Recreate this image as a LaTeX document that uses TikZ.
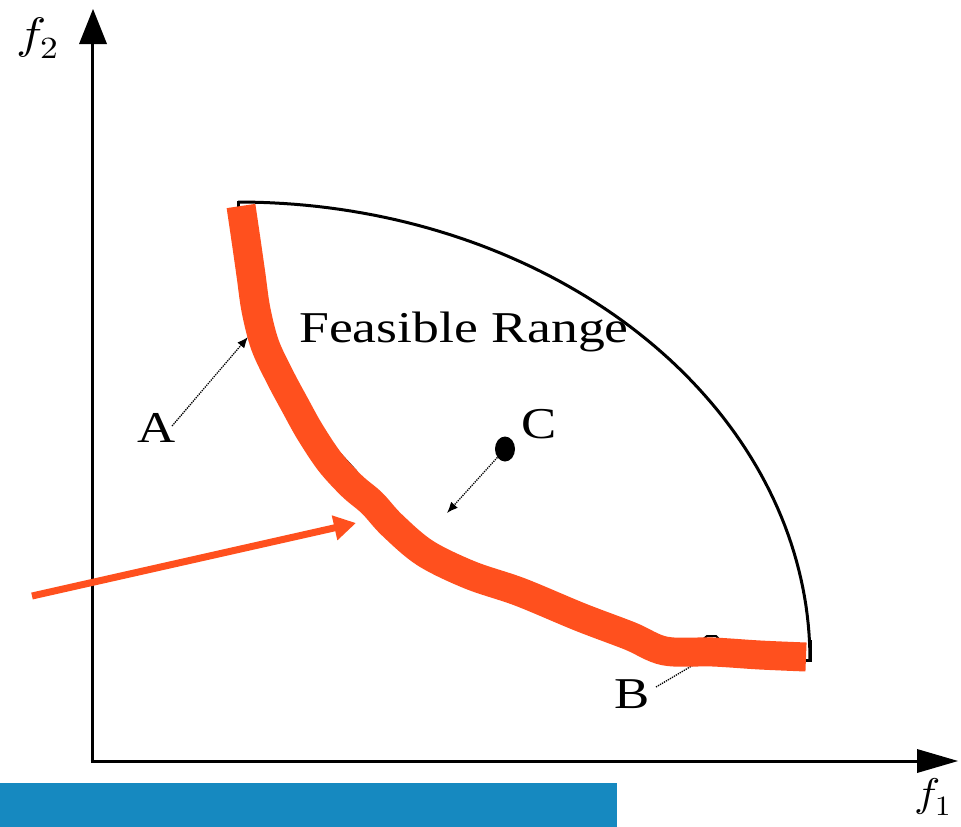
\documentclass[tikz,border=0pt]{standalone}
\usepackage{fontspec}
\setmainfont{Liberation Serif}
\usepackage{unicode-math}
\setmathfont{Latin Modern Math}
\usetikzlibrary{arrows.meta,shapes.geometric}
\definecolor{hlorange}{RGB}{255,80,30}
\definecolor{barblue}{RGB}{22,137,192}
\tikzset{
  axisline/.style={line width=3pt, black},
  bound/.style={line width=3pt, black},
  ptr/.style={densely dotted, line width=1.3pt, -{Latex[length=11pt,width=9pt]}},
  lbl/.style={inner sep=0pt, font=\fontsize{44}{48}\selectfont},
  hlmark/.style={line width=29pt, hlorange, line cap=butt, line join=round}
}
\begin{document}
\begin{tikzpicture}[x=1pt,y=-1pt]
\useasboundingbox (0,0) rectangle (961,827);
% axes
\coordinate (O) at (92,761);
\coordinate (ytop) at (92,44);
\coordinate (xend) at (917,761);
\draw[axisline] (92,762.5) -- (ytop);
\draw[axisline] (90.5,761) -- (xend);
\fill (79,44) -- (93,9) -- (107,44) -- cycle;
\fill (917,749) -- (958,761) -- (917,773) -- cycle;
\node[lbl, anchor=base west] (f2) at (16,48) {\scalebox{1.15}[1]{$f_2$}};
\node[lbl, anchor=base west, font=\fontsize{40}{44}\selectfont] (f1) at (914,806) {\scalebox{1.1}[1]{$f_1$}};
% blue bar
\fill[barblue] (0,783) rectangle (617,827);
% outer boundary
\draw[bound] plot[domain=-90:0, samples=80] ({238+572*cos(\x)},{660+458*sin(\x)});
\draw[bound] (238,201) -- (238,209);
\draw[bound] (810,640) -- (810,660) -- (805,660);
% inner boundary fragments
\draw[bound, line width=2pt] (334,447) -- (346,460) -- (357,472);
\draw[bound, line width=2pt] (700,642) -- (707,636) -- (716,636) -- (722,642);
% labels
\node[lbl] (fr) at (464,332) {\scalebox{1.22}[1]{Feasible Range}};
\node[lbl] (A) at (157,428) {\scalebox{1.2}[1]{A}};
\node[lbl] (B) at (632,694) {\scalebox{1.2}[1]{B}};
\node[lbl] (C) at (539,424) {\scalebox{1.2}[1]{C}};
% point C
\node[fill=black, ellipse, inner sep=0pt, minimum width=20pt, minimum height=25pt] (Cdot) at (505,449) {};
\coordinate (Ctip) at (447,513);
\draw[ptr] (Cdot) -- (Ctip);
% A pointer
\coordinate (Atip) at (248,337);
\draw[ptr] (172,426) -- (Atip);
% B pointer
\coordinate (Btip) at (695,664);
\draw[densely dotted, line width=1.3pt] (656,687) -- (Btip);
% orange highlight
\draw[hlmark] plot[smooth, tension=0.55] coordinates {(241,206) (246,240) (251,275) (256,310) (265,345) (280,377) (295,405) (310,432) (330,462) (352,486) (372,503) (392,525) (425,553) (470,575) (520,592) (580,617) (630,636) (665,651) (713,652) (760,655) (806,657)};
% orange arrow
\coordinate (ostart) at (32,596);
\coordinate (otip) at (356,523);
\draw[hlorange, line width=7pt, -{Triangle[length=22pt,width=24pt]}] (ostart) -- (otip);
\end{tikzpicture}
\end{document}
